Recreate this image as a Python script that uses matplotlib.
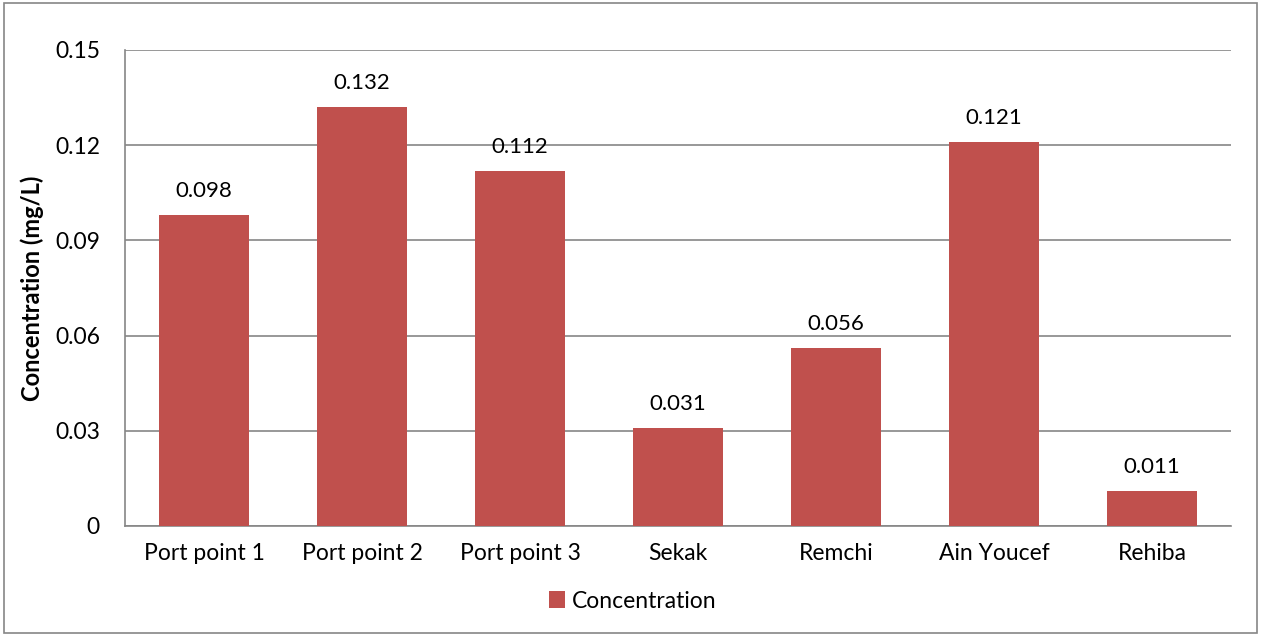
import matplotlib.pyplot as plt
from matplotlib.patches import Rectangle

sites = ["Port point 1", "Port point 2", "Port point 3", "Sekak",
         "Remchi", "Ain Youcef", "Rehiba"]
concentration = [0.098, 0.132, 0.112, 0.031, 0.056, 0.121, 0.011]
y_ticks = [0, 0.03, 0.06, 0.09, 0.12, 0.15]
y_tick_labels = ["0", "0.03", "0.06", "0.09", "0.12", "0.15"]

bar_color = "#C0504D"
grid_color = "#868686"

plt.rcParams["font.family"] = ["Lato", "DejaVu Sans"]
fs = 16.5

fig = plt.figure(figsize=(12.61, 6.36), dpi=100)
ax = fig.add_axes([0.0991, 0.173, 0.8771, 0.7484])

x = range(len(sites))
bars = ax.bar(x, concentration, width=0.565, color=bar_color, zorder=3,
              label="Concentration")

for xi, v in zip(x, concentration):
    ax.annotate(f"{v:.3f}", (xi, v), xytext=(0, 10), textcoords="offset points",
                ha="center", va="bottom", fontsize=16, color="black")

ax.set_xlim(-0.5, len(sites) - 0.5)
ax.set_ylim(0, 0.15)
ax.set_yticks(y_ticks)
ax.set_yticklabels(y_tick_labels, fontsize=fs)
ax.set_xticks(list(x))
ax.set_xticklabels(sites, fontsize=fs)
ax.tick_params(axis="x", length=0, pad=12)
ax.tick_params(axis="y", length=0, pad=18)

ax.yaxis.grid(True, color=grid_color, linewidth=1.2, zorder=0)
for side in ["top", "right"]:
    ax.spines[side].set_visible(False)
ax.spines["left"].set_color(grid_color)
ax.spines["bottom"].set_color(grid_color)
ax.spines["left"].set_linewidth(1.2)
ax.spines["bottom"].set_linewidth(1.2)

ax.set_ylabel("Concentration (mg/L)", fontsize=17, fontweight="bold",
              labelpad=8)

fig.legend(handles=[bars], labels=["Concentration"], loc="center",
           bbox_to_anchor=(0.502, 0.055), frameon=False, fontsize=fs,
           handlelength=0.7, handleheight=0.7, handletextpad=0.3)

# outer chart border
fig.add_artist(Rectangle((0.003, 0.004), 0.994, 0.991, transform=fig.transFigure,
                         fill=False, edgecolor=grid_color, linewidth=1.2))

fig.savefig("out.png", dpi=100)
